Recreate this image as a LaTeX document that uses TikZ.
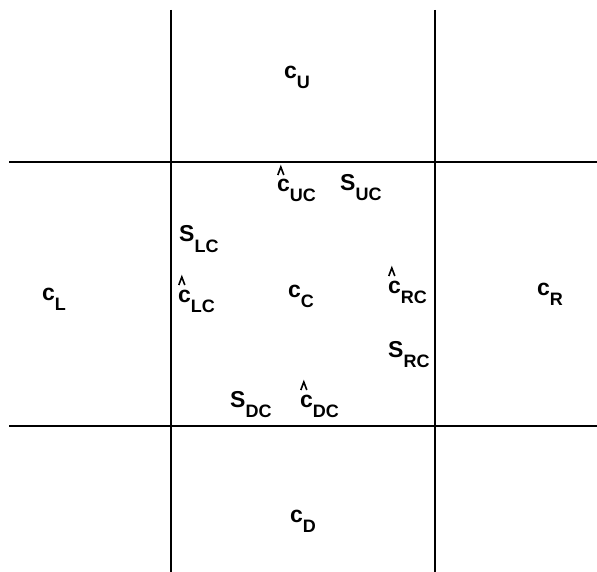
\documentclass[tikz,border=0pt]{standalone}
\usepackage{fontspec}
\setmainfont{Liberation Sans}
\newcommand\lbl[2]{{\fontsize{23}{23}\selectfont #1}\raisebox{-10pt}{\fontsize{18}{18}\selectfont #2}}
\begin{document}
\begin{tikzpicture}[x=1pt,y=-1pt,
  grid/.style={line width=2.8pt},
  hatmark/.style={line width=1.6pt,line join=miter},
  lab/.style={anchor=base west,inner sep=0pt,font=\bfseries}]
\useasboundingbox (0,0) rectangle (597,572);
\coordinate (v1t) at (171,10); \coordinate (v1b) at (171,572);
\coordinate (v2t) at (435,10); \coordinate (v2b) at (435,572);
\coordinate (h1l) at (9,162); \coordinate (h1r) at (597,162);
\coordinate (h2l) at (9,426); \coordinate (h2r) at (597,426);
\draw[grid] (v1t) -- (v1b);
\draw[grid] (v2t) -- (v2b);
\draw[grid] (h1l) -- (h1r);
\draw[grid] (h2l) -- (h2r);
\node[lab] (cU) at (284,79) {\lbl{c}{U}};
\node[lab] (hcUC) at (277,192) {\lbl{c}{UC}};
\node[lab] (SUC) at (340,191) {\lbl{S}{UC}};
\node[lab] (SLC) at (179,242) {\lbl{S}{LC}};
\node[lab] (hcLC) at (178,302) {\lbl{c}{LC}};
\node[lab] (cL) at (42,300) {\lbl{c}{L}};
\node[lab] (cC) at (288,297) {\lbl{c}{C}};
\node[lab] (hcRC) at (388,293) {\lbl{c}{RC}};
\node[lab] (cR) at (537,295) {\lbl{c}{R}};
\node[lab] (SRC) at (388,357) {\lbl{S}{RC}};
\node[lab] (SDC) at (230,407) {\lbl{S}{DC}};
\node[lab] (hcDC) at (300,407) {\lbl{c}{DC}};
\node[lab] (cD) at (290,522) {\lbl{c}{D}};
\foreach \n in {hcUC,hcLC,hcRC,hcDC}{
  \draw[hatmark] ([shift={(0.8,-17)}]\n.base west) -- ([shift={(3.8,-25)}]\n.base west) -- ([shift={(6.8,-17)}]\n.base west);
}
\end{tikzpicture}
\end{document}
